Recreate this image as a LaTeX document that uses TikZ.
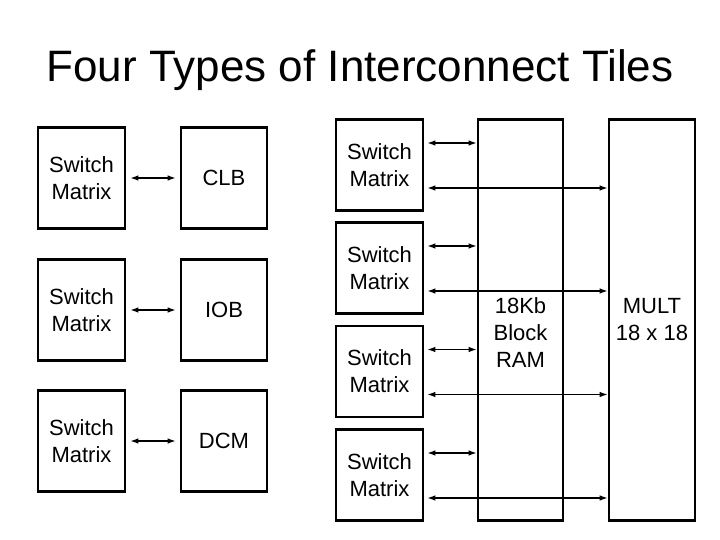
\documentclass[tikz,border=0pt]{standalone}
\usepackage{fontspec}
\setmainfont{Liberation Sans}
\usetikzlibrary{arrows.meta}
\begin{document}
\begin{tikzpicture}[x=1pt,y=-1pt,
  box/.style={draw,line width=2.6pt,inner sep=0pt,align=center,font=\fontsize{22}{27}\selectfont},
  con/.style={line width=1.3pt,{Latex[length=8pt,width=5.5pt]}-{Latex[length=8pt,width=5.5pt]}}]
\useasboundingbox (0,0) rectangle (720,540);
\node[font=\fontsize{44}{48}\selectfont] (title) at (360,70) {Four Types of Interconnect Tiles};
% left
\foreach \n/\y/\t in {1/178/CLB,2/310/IOB,3/441/DCM}{
  \node[box,minimum width=87pt,minimum height=101pt] (ls\n) at (81.5,\y) {Switch\\Matrix};
  \node[box,minimum width=86pt,minimum height=101pt] (lt\n) at (224,\y) {\t};
  \draw[con] ([xshift=4pt]ls\n.east) -- ([xshift=-4pt]lt\n.west);
}
% right
\node[box,minimum width=85pt,minimum height=401pt] (ram) at (520.5,320) {};
\node[box,draw=none,anchor=north] (ramt) at (520.5,296) {18Kb\\Block\\RAM};
\node[box,minimum width=86pt,minimum height=401pt] (mult) at (652,320) {MULT\\18 x 18};
\foreach \n/\y in {1/165,2/268,3/371.5,4/475}{
  \node[box,minimum width=87pt,minimum height=91pt] (rs\n) at (379.5,\y) {Switch\\Matrix};
  \draw[con] ([xshift=3pt,yshift=22pt]rs\n.east) -- ([yshift=22pt]rs\n.east -| ram.west);
  \draw[con] ([xshift=3pt,yshift=-23pt]rs\n.east) -- ([yshift=-23pt]rs\n.east -| mult.west);
}
\end{tikzpicture}
\end{document}
